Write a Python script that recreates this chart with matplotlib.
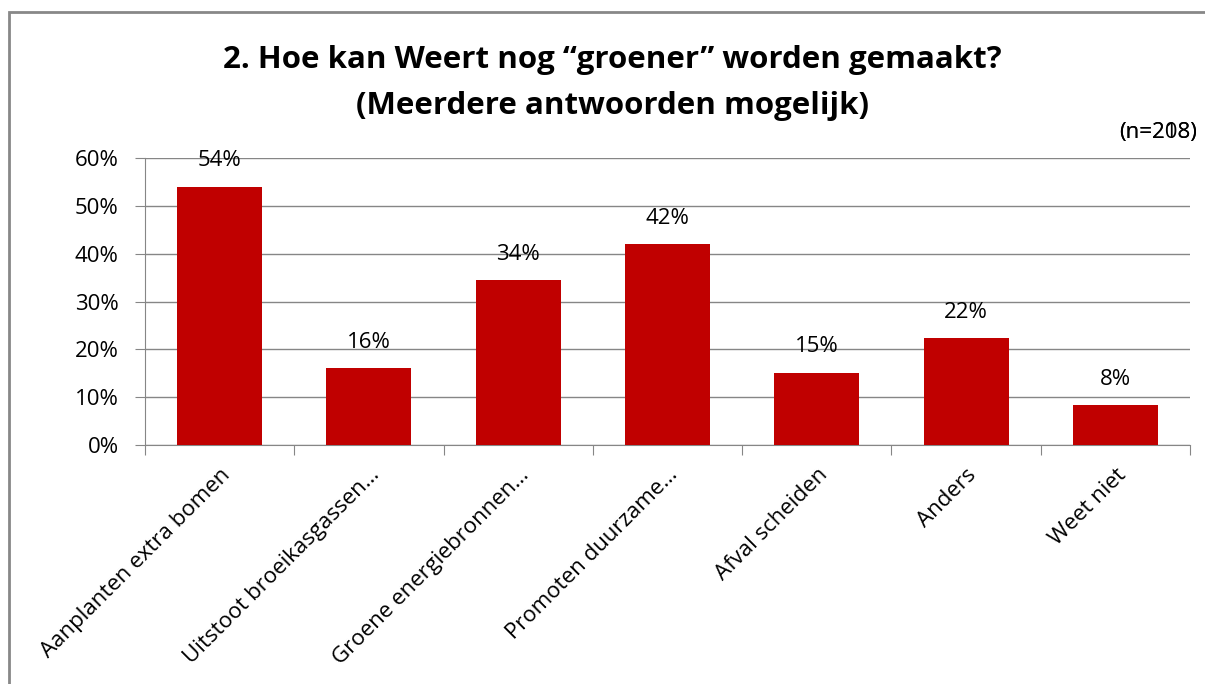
import numpy as np
import matplotlib.pyplot as plt
from matplotlib.patches import Rectangle

categories = ['Aanplanten extra bomen', 'Uitstoot broeikasgassen…', 'Groene energiebronnen…',
              'Promoten duurzame…', 'Afval scheiden', 'Anders', 'Weet niet']
values = [0.54, 0.16, 0.345, 0.42, 0.151, 0.224, 0.084]
yticks = [0, 0.1, 0.2, 0.3, 0.4, 0.5, 0.6]

plt.rcParams['font.family'] = ['Open Sans', 'DejaVu Sans']
grey = '#868686'

fig = plt.figure(figsize=(12.05, 6.84), dpi=100)
ax = fig.add_axes([0.1203, 0.3494, 0.8673, 0.4196])

x = np.arange(len(categories))
ax.bar(x, values, width=0.57, color='#C00000', zorder=3)

# étiquettes des valeurs
for xi, v in zip(x, values):
    ax.text(xi, v + 0.032, '%d%%' % round(v * 100), ha='center', va='bottom', fontsize=16)

ax.set_xlim(-0.5, len(categories) - 0.5)
ax.set_ylim(0, 0.6)
ax.set_yticks(yticks)
ax.set_yticklabels(['%d%%' % round(t * 100) for t in yticks], fontsize=16)
ax.yaxis.grid(True, color=grey, lw=1, zorder=0)

# ticks entre les catégories
ax.set_xticks(np.arange(-0.5, len(categories), 1.0))
ax.set_xticklabels([])
ax.set_xticks(x, minor=True)
ax.set_xticklabels(categories, minor=True, rotation=45, ha='right', va='top',
                   rotation_mode='anchor', fontsize=16)
ax.tick_params(axis='x', which='minor', length=0, pad=14)
ax.tick_params(axis='x', which='major', length=7, color=grey, direction='out')
ax.tick_params(axis='y', length=7, color=grey, direction='out', pad=12)

for s in ['top', 'right']:
    ax.spines[s].set_visible(False)
for s in ['left', 'bottom']:
    ax.spines[s].set_color(grey)

fig.text(0.508, 0.912, '2. Hoe kan Weert nog \u201cgroener\u201d worden gemaakt?',
         ha='center', va='center', fontsize=22.5, fontweight='bold')
fig.text(0.508, 0.845, '(Meerdere antwoorden mogelijk)',
         ha='center', va='center', fontsize=22.5, fontweight='bold')

fig.text(0.9935, 0.806, '(n=208)', ha='right', va='center', fontsize=16)
fig.text(0.9935, 0.806, '(n=218)', ha='right', va='center', fontsize=16)

fig.patches.append(Rectangle((0.0075, -0.05), 1.1, 1.032, transform=fig.transFigure,
                             fill=False, edgecolor='#888888', lw=2))

fig.savefig('out.png', dpi=100)
